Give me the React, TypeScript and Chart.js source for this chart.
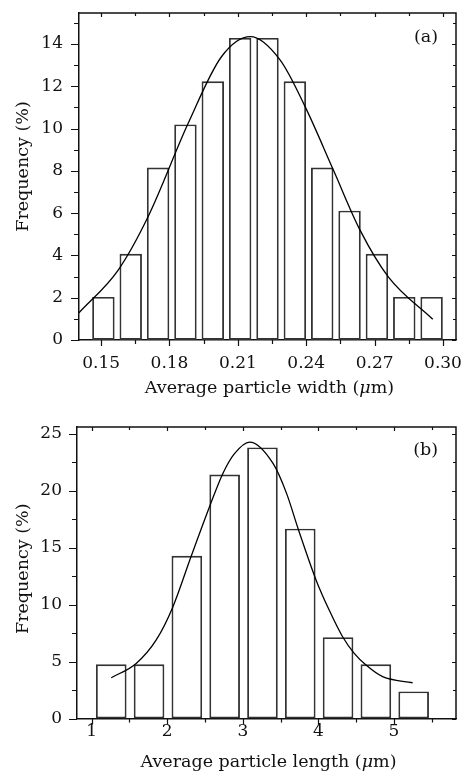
import React, { useEffect, useRef } from "react";
import { Chart, registerables } from "chart.js";

Chart.register(...registerables);

// ---------- Panel (a): particle width ----------
const WIDTH_BIN_CENTERS = [0.151, 0.163, 0.175, 0.187, 0.199, 0.211, 0.223, 0.235, 0.247, 0.259, 0.271, 0.283, 0.295];
const WIDTH_FREQ = [2.04, 4.08, 8.16, 10.2, 12.24, 14.29, 14.29, 12.24, 8.16, 6.12, 4.08, 2.04, 2.04];
const WIDTH_FIT_X = [0.1403, 0.1575, 0.1706, 0.1882, 0.2028, 0.2155, 0.2285, 0.2395, 0.2519, 0.2636, 0.276, 0.2955];
const WIDTH_FIT_Y = [1.29, 3.31, 5.83, 10.25, 13.4, 14.35, 13.25, 11.04, 8.04, 5.2, 2.99, 0.98];
const WIDTH_X_TICKS = [0.15, 0.18, 0.21, 0.24, 0.27, 0.3];
const WIDTH_X_MINOR = [0.165, 0.195, 0.225, 0.255, 0.285];
const WIDTH_Y_TICKS = [0, 2, 4, 6, 8, 10, 12, 14];
const WIDTH_Y_MINOR = [1, 3, 5, 7, 9, 11, 13, 15];
const WIDTH_X_TITLE = ["Average particle width (", "\u03bc", "m)"];
const WIDTH_LABEL = "(a)";

// ---------- Panel (b): particle length ----------
const LENGTH_BIN_CENTERS = [1.26, 1.76, 2.26, 2.76, 3.26, 3.76, 4.26, 4.76, 5.26];
const LENGTH_FREQ = [4.76, 4.76, 14.29, 21.43, 23.81, 16.67, 7.14, 4.76, 2.38];
const LENGTH_FIT_X = [1.26, 1.59, 1.855, 2.075, 2.317, 2.56, 2.735, 2.89, 3.09, 3.4, 3.58, 3.735, 3.97, 4.144, 4.32, 4.474, 4.63, 4.85, 5.246];
const LENGTH_FIT_Y = [3.58, 4.84, 6.9, 9.8, 14.25, 18.6, 21.5, 23.26, 24.28, 22.4, 19.75, 16.6, 12.15, 9.5, 7.18, 5.72, 4.69, 3.67, 3.14];
const LENGTH_X_TICKS = [1, 2, 3, 4, 5];
const LENGTH_X_MINOR = [1.5, 2.5, 3.5, 4.5, 5.5];
const LENGTH_Y_TICKS = [0, 5, 10, 15, 20, 25];
const LENGTH_Y_MINOR = [2.5, 7.5, 12.5, 17.5, 22.5];
const LENGTH_X_TITLE = ["Average particle length (", "\u03bc", "m)"];
const LENGTH_LABEL = "(b)";

const Y_TITLE = "Frequency (%)";

const FONT = "'DejaVu Serif', 'Liberation Serif', serif";
const INK = "#111";
const TITLE_PX = 17.5;

const framePlugin = {
  id: "frame",
  afterDraw(chart: any, _args: any, o: any) {
    const { ctx, chartArea } = chart;
    const { left, right, top, bottom } = chartArea;
    const xs = chart.scales.x;
    const ys = chart.scales.y;
    const px = (v: number) => Math.round(xs.getPixelForValue(v)) + 0.5;
    const py = (v: number) => Math.round(ys.getPixelForValue(v)) + 0.5;
    ctx.save();
    ctx.strokeStyle = INK;
    ctx.lineWidth = 1.5;
    ctx.beginPath();
    ctx.moveTo(left, top);
    ctx.lineTo(right, top);
    ctx.lineTo(right, bottom);
    ctx.stroke();

    ctx.lineWidth = 1.2;
    ctx.beginPath();
    for (const v of o.xMajor) { const p = px(v); ctx.moveTo(p, bottom); ctx.lineTo(p, bottom + 6); }
    for (const v of o.xMinor) { const p = px(v); ctx.moveTo(p, bottom); ctx.lineTo(p, bottom + 4); }
    for (const v of o.xMajor) { const p = px(v); ctx.moveTo(p, top); ctx.lineTo(p, top + 4); }
    for (const v of o.xMinor) { const p = px(v); ctx.moveTo(p, top); ctx.lineTo(p, top + 3); }
    for (const v of o.yMajor) { const p = py(v); ctx.moveTo(left, p); ctx.lineTo(left - 8, p); }
    for (const v of o.yMinor) { if (v > ys.max) continue; const p = py(v); ctx.moveTo(left, p); ctx.lineTo(left - 5, p); }
    for (const v of o.yMajor) { const p = py(v); ctx.moveTo(right, p); ctx.lineTo(right - 4, p); }
    for (const v of o.yMinor) { if (v > ys.max) continue; const p = py(v); ctx.moveTo(right, p); ctx.lineTo(right - 3, p); }
    ctx.stroke();

    ctx.fillStyle = INK;
    ctx.font = `${TITLE_PX}px ${FONT}`;
    ctx.textAlign = "right";
    ctx.textBaseline = "middle";
    ctx.fillText(o.label, right - 18, top + o.labelDy);

    const parts: string[] = o.xTitle;
    const fonts = parts.map((_, i) => (i === 1 ? `italic ${TITLE_PX}px ${FONT}` : `${TITLE_PX}px ${FONT}`));
    let total = 0;
    const widths = parts.map((t, i) => { ctx.font = fonts[i]; const w = ctx.measureText(t).width; total += w; return w; });
    let x = (left + right) / 2 + 2 - total / 2;
    ctx.textAlign = "left";
    ctx.textBaseline = "alphabetic";
    parts.forEach((t, i) => { ctx.font = fonts[i]; ctx.fillText(t, x, o.xTitleBaseline); x += widths[i]; });

    ctx.save();
    ctx.translate(23, (top + bottom) / 2 + o.yTitleDy);
    ctx.rotate(-Math.PI / 2);
    ctx.font = `${TITLE_PX}px ${FONT}`;
    ctx.textAlign = "center";
    ctx.textBaseline = "middle";
    ctx.fillText(Y_TITLE, 0, 0);
    ctx.restore();

    ctx.restore();
  },
};

function makeConfig(p: any) {
  return {
    type: "bar",
    data: {
      datasets: [
        {
          type: "line",
          data: p.fitX.map((x: number, i: number) => ({ x, y: p.fitY[i] })),
          borderColor: "#000",
          borderWidth: 1.3,
          pointRadius: 0,
          cubicInterpolationMode: "monotone",
          fill: false,
          order: 0,
        },
        {
          type: "bar",
          data: p.bins.map((x: number, i: number) => ({ x, y: p.freq[i] })),
          backgroundColor: "#ffffff",
          borderColor: "#333",
          borderWidth: 1.9,
          borderSkipped: false,
          barPercentage: p.barPct,
          categoryPercentage: 1,
          order: 1,
        },
      ],
    },
    options: {
      responsive: false,
      animation: false,
      devicePixelRatio: 1,
      layout: { padding: { top: p.padTop, right: 5, left: 0, bottom: 0 } },
      plugins: {
        legend: { display: false },
        tooltip: { enabled: false },
        frame: {
          xMajor: p.xTicks,
          xMinor: p.xMinor,
          yMajor: p.yTicks,
          yMinor: p.yMinor,
          label: p.label,
          labelDy: p.labelDy,
          xTitle: p.xTitle,
          xTitleBaseline: p.xTitleBaseline,
          yTitleDy: p.yTitleDy,
        },
      },
      scales: {
        x: {
          type: "linear",
          min: p.xMin,
          max: p.xMax,
          offset: false,
          grid: { display: false, drawTicks: false, tickLength: 0 },
          border: { display: true, color: INK, width: 1.5 },
          afterBuildTicks: (s: any) => { s.ticks = p.xTicks.map((v: number) => ({ value: v })); },
          afterFit: (s: any) => { s.height = p.xAxisHeight; s.paddingLeft = 0; s.paddingRight = 0; },
          ticks: {
            autoSkip: false,
            maxRotation: 0,
            padding: p.xLabelPad,
            color: INK,
            font: { family: FONT, size: 17 },
            callback: (v: number) => p.xFmt(v),
          },
        },
        y: {
          type: "linear",
          min: 0,
          max: p.yMax,
          grid: { display: false, drawTicks: false, tickLength: 0 },
          border: { display: true, color: INK, width: 1.5 },
          afterBuildTicks: (s: any) => { s.ticks = p.yTicks.map((v: number) => ({ value: v })); },
          afterFit: (s: any) => { s.width = p.yAxisWidth; s.paddingTop = 0; s.paddingBottom = 0; },
          ticks: {
            padding: p.yLabelPad,
            color: INK,
            font: { family: FONT, size: 17 },
            callback: (v: number) => String(v),
          },
        },
      },
    },
    plugins: [framePlugin],
  };
}

function Panel({ top, height, params }: { top: number; height: number; params: any }) {
  const ref = useRef<HTMLCanvasElement>(null);
  useEffect(() => {
    const chart = new Chart(ref.current as HTMLCanvasElement, makeConfig(params) as any);
    return () => chart.destroy();
  }, []);
  return (
    <div style={{ position: "absolute", left: 0, top, width: 461, height }}>
      <canvas ref={ref} width={461} height={height} style={{ display: "block" }} />
    </div>
  );
}

const panelA = {
  bins: WIDTH_BIN_CENTERS,
  freq: WIDTH_FREQ,
  fitX: WIDTH_FIT_X,
  fitY: WIDTH_FIT_Y,
  xTicks: WIDTH_X_TICKS,
  xMinor: WIDTH_X_MINOR,
  yTicks: WIDTH_Y_TICKS,
  yMinor: WIDTH_Y_MINOR,
  xTitle: WIDTH_X_TITLE,
  label: WIDTH_LABEL,
  xMin: 0.1403,
  xMax: 0.3057,
  yMax: 15.47,
  barPct: 0.82,
  padTop: 13,
  xAxisHeight: 60,
  yAxisWidth: 79,
  xLabelPad: 13,
  yLabelPad: 16,
  labelDy: 24,
  xTitleBaseline: 393,
  yTitleDy: -10,
  xFmt: (v: number) => v.toFixed(2),
};

const panelB = {
  bins: LENGTH_BIN_CENTERS,
  freq: LENGTH_FREQ,
  fitX: LENGTH_FIT_X,
  fitY: LENGTH_FIT_Y,
  xTicks: LENGTH_X_TICKS,
  xMinor: LENGTH_X_MINOR,
  yTicks: LENGTH_Y_TICKS,
  yMinor: LENGTH_Y_MINOR,
  xTitle: LENGTH_X_TITLE,
  label: LENGTH_LABEL,
  xMin: 0.807,
  xMax: 5.82,
  yMax: 25.6,
  barPct: 0.81,
  padTop: 27,
  xAxisHeight: 52.5,
  yAxisWidth: 77,
  xLabelPad: 3,
  yLabelPad: 15,
  labelDy: 23,
  xTitleBaseline: 367,
  yTitleDy: -4,
  xFmt: (v: number) => String(v),
};

export default function App() {
  return (
    <div style={{ position: "absolute", left: 0, top: 0, width: 461, height: 771, background: "#fff", overflow: "hidden" }}>
      <Panel top={0} height={400} params={panelA} />
      <Panel top={400} height={371} params={panelB} />
    </div>
  );
}
